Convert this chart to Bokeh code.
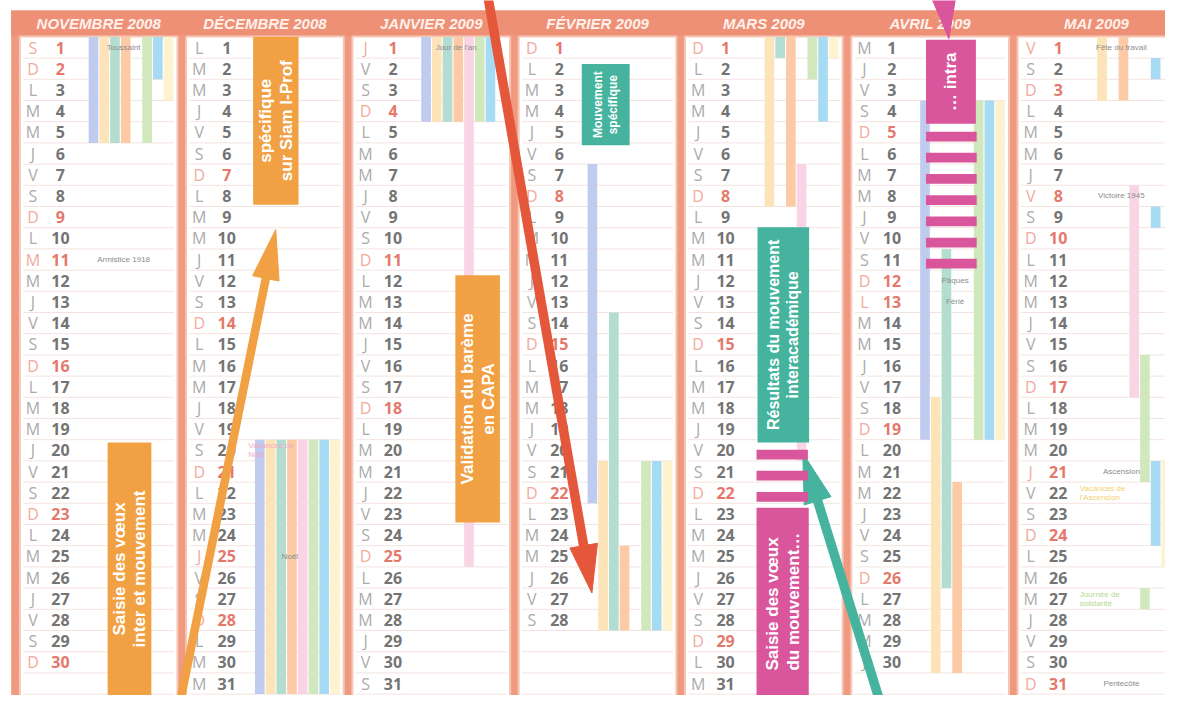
import math
from bokeh.plotting import figure
from bokeh.models import Range1d
from bokeh.embed import file_html
from bokeh.resources import INLINE
from bokeh.core.properties import value

# ---------------- data ----------------
MONTHS = ["NOVEMBRE 2008", "DÉCEMBRE 2008", "JANVIER 2009", "FÉVRIER 2009",
          "MARS 2009", "AVRIL 2009", "MAI 2009"]
MONTH_DAYS = [30, 31, 31, 28, 31, 30, 31]
FIRST_WEEKDAY = [5, 0, 3, 6, 6, 2, 4]          # 0 = lundi
WEEKDAY_LETTERS = ["L", "M", "M", "J", "V", "S", "D"]
PUBLIC_HOLIDAYS = [(0, 1), (0, 11), (1, 25), (2, 1), (5, 13), (6, 1), (6, 8), (6, 21)]

# school holiday stripes: (lane, start month, start day, end month, end day)
HOLIDAY_PERIODS = [
    (0, 0, 1, 0, 5), (1, 0, 1, 0, 5), (2, 0, 1, 0, 5), (3, 0, 1, 0, 5),
    (5, 0, 1, 0, 5), (6, 0, 1, 0, 2), (7, 0, 1, 0, 3),
    (0, 1, 20, 2, 4), (1, 1, 20, 2, 4), (2, 1, 20, 2, 4), (3, 1, 20, 2, 4),
    (4, 1, 20, 2, 25), (5, 1, 20, 2, 4), (6, 1, 20, 2, 4), (7, 1, 20, 1, 31),
    (0, 3, 7, 3, 22), (2, 3, 14, 4, 1), (1, 3, 21, 4, 8), (3, 3, 25, 4, 8),
    (5, 3, 21, 4, 2), (6, 3, 21, 4, 4), (7, 3, 21, 4, 1), (4, 4, 7, 4, 20),
    (0, 5, 4, 5, 19), (5, 5, 4, 5, 19), (6, 5, 4, 5, 19), (7, 5, 4, 5, 19),
    (2, 5, 11, 5, 26), (1, 5, 18, 6, 3), (3, 5, 22, 6, 3),
    (6, 6, 2, 6, 2), (6, 6, 9, 6, 9), (4, 6, 8, 6, 17), (5, 6, 16, 6, 21),
    (6, 6, 21, 6, 24), (7, 6, 21, 6, 25), (5, 6, 27, 6, 27),
]
LANE_COLORS = ["#BFCBEF", "#FDE3B8", "#B3DDD1", "#FCCBA5",
               "#F9D4E4", "#D0E8BC", "#A7DBF3", "#FEF2CF"]

DAY_LABELS = [(0, 1, "Toussaint"), (0, 11, "Armistice 1918"), (1, 25, "Noël"),
              (2, 1, "Jour de l'an"), (5, 12, "Pâques"), (5, 13, "Férié"),
              (6, 1, "Fête du travail"), (6, 8, "Victoire 1945"),
              (6, 21, "Ascension"), (6, 31, "Pentecôte")]
DAY_NOTES = [(1, 20, "Vacances de\nNoël", "#F2A9C6"),
             (6, 22, "Vacances de\nl'Ascension", "#F3CF72"),
             (6, 27, "Journée de\nsolidarité", "#B5D98E")]

ORANGE, TEAL, PINK, RED = "#F1A144", "#45B39D", "#D9569C", "#E4573A"
# annotation boxes: (month, left frac, right frac, top day, bottom day, colour, text, size)
BOXES = [
    (1, 0.429, 0.702, 0.49, 8.42, ORANGE, "spécifique\nsur Siam I-Prof", 17),
    (0, 0.554, 0.817, 19.63, 31.8, ORANGE, "Saisie des vœux\ninter et mouvement", 17),
    (2, 0.645, 0.913, 11.74, 23.41, ORANGE, "Validation du barème\nen CAPA", 17),
    (3, 0.405, 0.693, 1.78, 5.61, TEAL, "Mouvement\nspécifique", 12),
    (4, 0.462, 0.772, 9.48, 19.63, TEAL, "Résultats du mouvement\ninteracadémique", 16),
]
PINK_BOXES = [
    (4, 0.456, 0.770, 22.71, 31.8, PINK, "Saisie  des vœux\ndu mouvement…", 17),
    (5, 0.475, 0.775, 0.63, 4.60, PINK, "… intra", 17),
]
PINK_DASH_DAYS = [(4, 0.456, 0.765, [20, 21, 22]),
                  (5, 0.475, 0.780, [5, 6, 7, 8, 9, 10, 11])]
# arrows: (tail month pos, tail day, tip month pos, tip day, colour, width, head len, head half)
ARROWS = [
    (0.989, 31.9, 1.565, 9.58, ORANGE, 8.5, 50, 13.5),
    (2.843, -1.3, 3.466, 26.73, RED, 9.5, 48, 14),
    (5.200, 31.9, 4.734, 20.13, TEAL, 9.5, 50, 14),
]
TOP_ARROWS = [(5.544, -3.93, 5.6125, 0.585, PINK, 9, 45, 13)]

# ---------------- layout ----------------
W, H = 1165, 695
PX = 166.3          # pixels per month column
PY = 21.2           # pixels per day row
X_START = -15.0 / PX
Y_TOP = 1 - 47.0 / PY


def yday(pix):
    return 1 + (pix - 47.0) / PY


p = figure(width=W, height=H, output_backend="svg", toolbar_location=None,
           x_range=Range1d(X_START, X_START + W / PX),
           y_range=Range1d(Y_TOP + H / PY, Y_TOP),
           x_axis_location=None, y_axis_location=None, min_border=0)
p.grid.visible = False
p.outline_line_color = None
p.background_fill_color = "white"
p.border_fill_color = "white"

n = len(MONTHS)
SEP = 0.026
HEAD_TOP, HEAD_BOT = yday(10), yday(35)
PANEL_TOP, PANEL_BOT = yday(36), 33

# salmon frame
p.quad(left=[-SEP], right=[n + SEP], top=[HEAD_TOP], bottom=[PANEL_BOT + 1],
       fill_color="#EF9A80", line_color=None)
p.quad(left=[-SEP], right=[n + SEP], top=[HEAD_TOP], bottom=[HEAD_BOT],
       fill_color="#EE9075", line_color=None)
# panels
p.quad(left=[i + SEP for i in range(n)], right=[i + 1 - SEP for i in range(n)],
       top=[PANEL_TOP] * n, bottom=[PANEL_BOT] * n,
       fill_color="white", line_color="#F6C6B6", line_width=2)
# row lines
xs, ys = [], []
for i in range(n):
    for d in range(1, 32):
        xs.append([i + SEP + 0.02, i + 1 - SEP - 0.02])
        ys.append([d + 0.5, d + 0.5])
p.multi_line(xs, ys, line_color="#F3E3DF", line_width=1)

# holiday stripes
L0, LSTEP, LW = 0.44, 0.0645, 0.058
ql, qr, qt, qb, qc = [], [], [], [], []
for lane, m0, d0, m1, d1 in HOLIDAY_PERIODS:
    for m in range(m0, m1 + 1):
        s = d0 if m == m0 else 1
        e = d1 if m == m1 else MONTH_DAYS[m]
        ql.append(m + L0 + LSTEP * lane)
        qr.append(m + L0 + LSTEP * lane + LW)
        qt.append(s - 0.5)
        qb.append(e + 0.5)
        qc.append(LANE_COLORS[lane])
p.quad(left=ql, right=qr, top=qt, bottom=qb, fill_color=qc, line_color=None)

# headers
p.text(x=[i + 0.5 for i in range(n)], y=[yday(23)] * n, text=MONTHS,
       text_align="center", text_baseline="middle", text_color="#FFF1EC",
       text_font=value("Liberation Sans"), text_font_style="bold italic",
       text_font_size="15px")

# days
lx, nx, yy, lt, nt, lc, nc = [], [], [], [], [], [], []
for i in range(n):
    for d in range(1, MONTH_DAYS[i] + 1):
        wd = (FIRST_WEEKDAY[i] + d - 1) % 7
        red = wd == 6 or (i, d) in PUBLIC_HOLIDAYS
        lx.append(i + 0.105)
        nx.append(i + 0.27)
        yy.append(d)
        lt.append(WEEKDAY_LETTERS[wd])
        nt.append(str(d))
        lc.append("#F2AB9C" if red else "#ABABAB")
        nc.append("#E5786A" if red else "#747474")
p.text(x=lx, y=yy, text=lt, text_color=lc, text_align="center", text_baseline="middle",
       text_font=value("Open Sans"), text_font_size="16px")
p.text(x=nx, y=yy, text=nt, text_color=nc, text_align="center", text_baseline="middle",
       text_font=value("Open Sans"), text_font_style="bold", text_font_size="16px")

# small labels
p.text(x=[m + 0.65 for m, d, t in DAY_LABELS], y=[d for m, d, t in DAY_LABELS],
       text=[t for m, d, t in DAY_LABELS], text_align="center", text_baseline="middle",
       text_color="#8C8C8C", text_font=value("Liberation Sans"), text_font_size="8px")
p.text(x=[m + 0.40 for m, d, t, c in DAY_NOTES], y=[d for m, d, t, c in DAY_NOTES],
       text=[t for m, d, t, c in DAY_NOTES], text_color=[c for m, d, t, c in DAY_NOTES],
       text_align="left", text_baseline="middle", text_line_height=1.0,
       text_font=value("Liberation Sans"), text_font_size="8px")


def draw_boxes(boxes):
    for m, fl, fr, top, bot, col, txt, size in boxes:
        p.quad(left=[m + fl], right=[m + fr], top=[top], bottom=[bot],
               fill_color=col, line_color=None)
        ymid = (top + min(bot, yday(H))) / 2
        p.text(x=[m + (fl + fr) / 2], y=[ymid], text=[txt], angle=math.pi / 2,
               text_align="center", text_baseline="middle", text_color="white",
               text_font=value("Liberation Sans"), text_font_style="bold",
               text_font_size=f"{size}px", text_line_height=1.1)


def draw_arrows(arrows):
    for x0, y0, x1, y1, col, lw, hl, hh in arrows:
        X0, Y0, X1, Y1 = x0 * PX, y0 * PY, x1 * PX, y1 * PY
        L = math.hypot(X1 - X0, Y1 - Y0)
        ux, uy = (X1 - X0) / L, (Y1 - Y0) / L
        bx, by = X1 - ux * hl, Y1 - uy * hl
        nxx, nyy = -uy, ux
        p.line([x0, (bx + ux * 2) / PX], [y0, (by + uy * 2) / PY],
               line_color=col, line_width=lw, line_cap="butt")
        p.patch([X1 / PX, (bx + nxx * hh) / PX, (bx - nxx * hh) / PX],
                [Y1 / PY, (by + nyy * hh) / PY, (by - nyy * hh) / PY],
                fill_color=col, line_color=col, line_width=1)


draw_boxes(BOXES)
draw_arrows(ARROWS)

# pink dashes
dl, dr, dt, db = [], [], [], []
for m, fl, fr, days in PINK_DASH_DAYS:
    for d in days:
        dl.append(m + fl)
        dr.append(m + fr)
        dt.append(d - 0.03)
        db.append(d + 0.43)
p.quad(left=dl, right=dr, top=dt, bottom=db, fill_color=PINK, line_color=None)
draw_boxes(PINK_BOXES)
draw_arrows(TOP_ARROWS)

open("out.html", "w").write(file_html(p, INLINE))
